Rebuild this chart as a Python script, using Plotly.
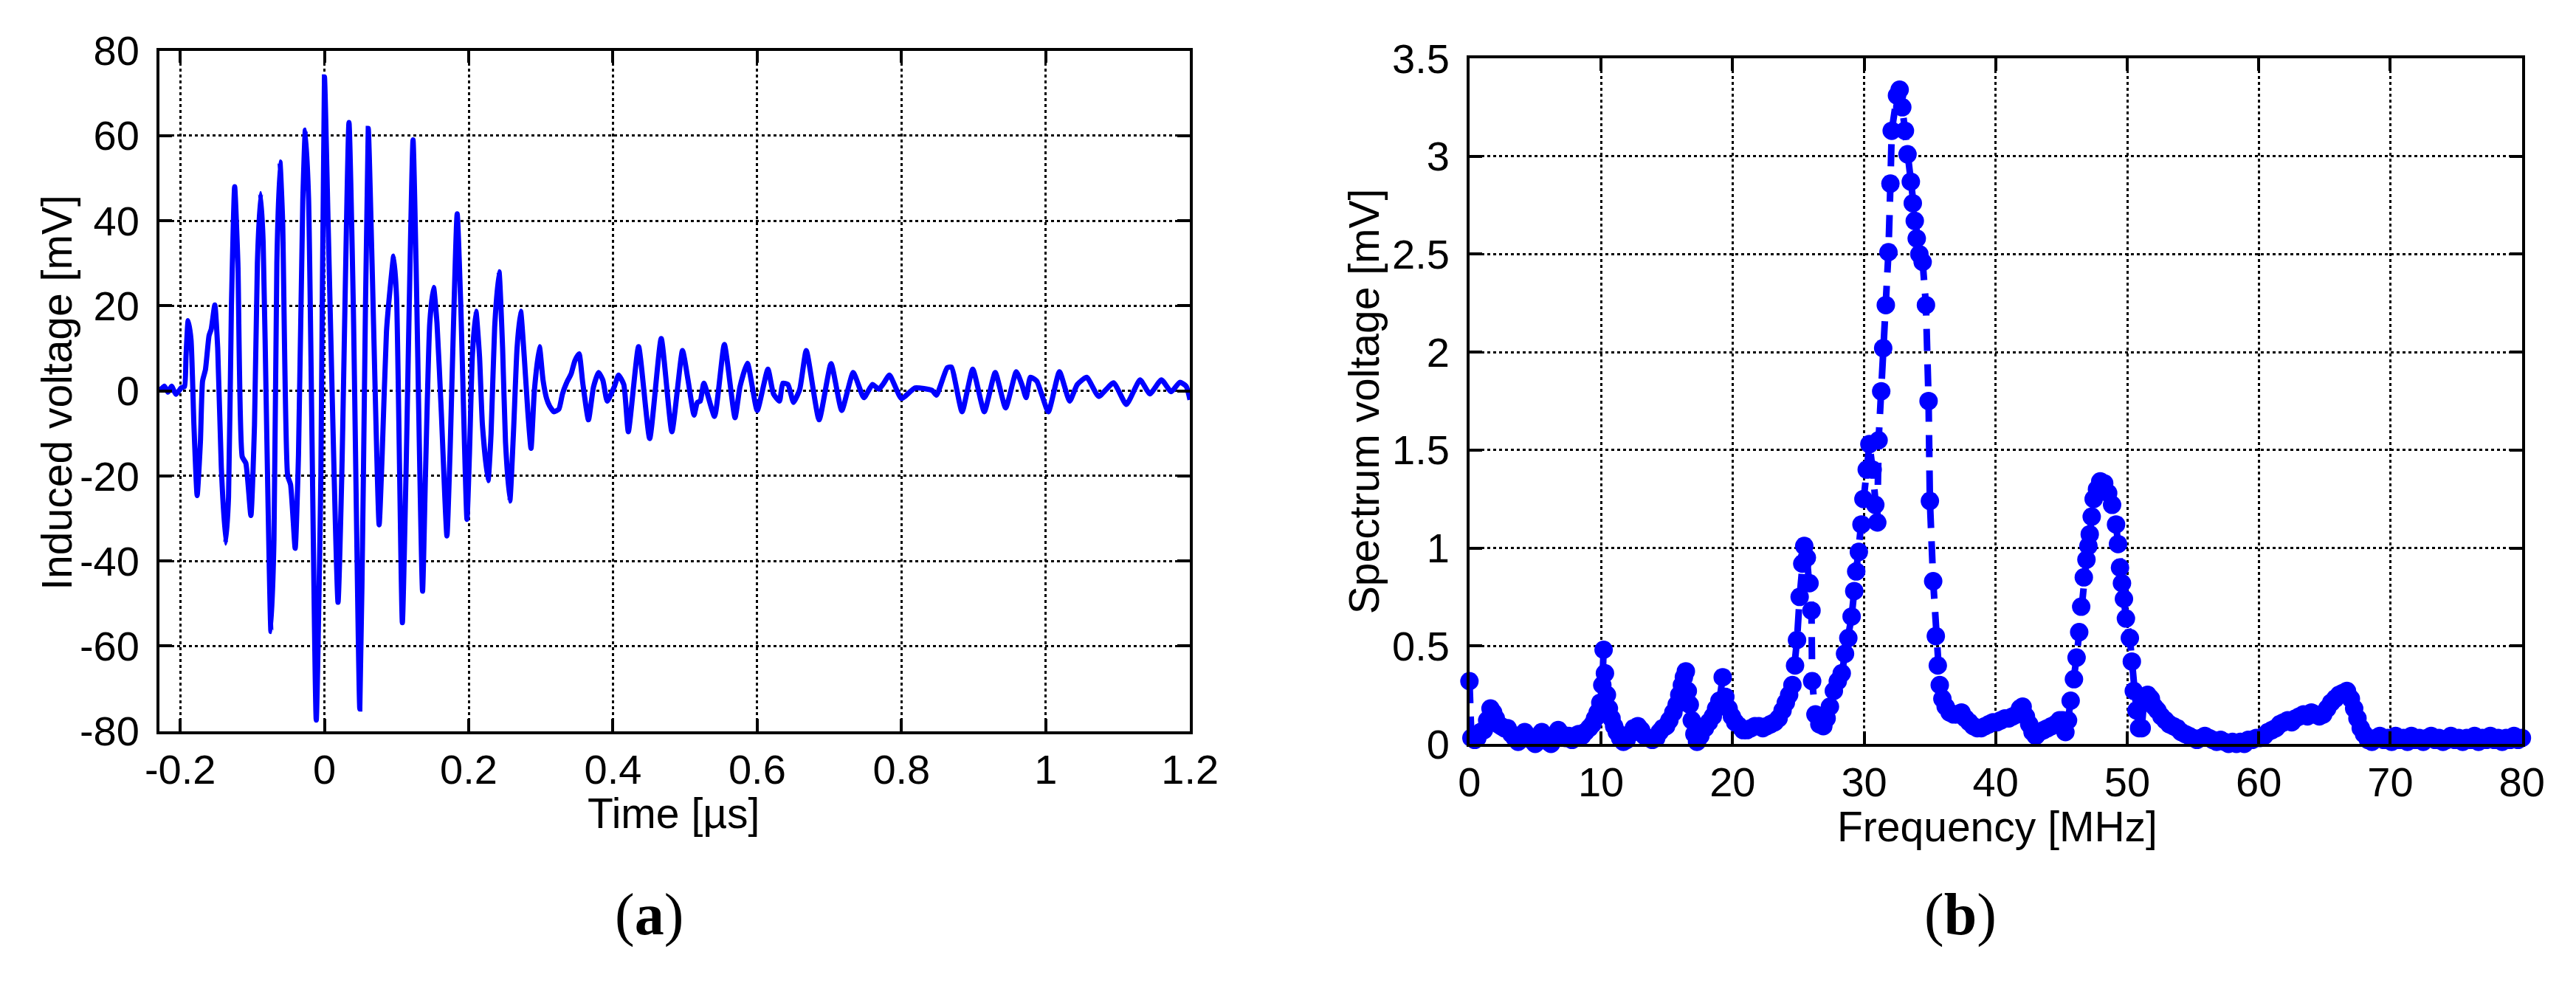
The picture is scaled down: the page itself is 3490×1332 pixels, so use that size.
import plotly.graph_objects as go

# ---------------- (a) induced voltage waveform ----------------
time_us = [-0.229, -0.222, -0.217, -0.212, -0.206, -0.198, -0.194, -0.192, -0.189, -0.185,
           -0.181, -0.1765, -0.172, -0.169, -0.165, -0.160, -0.157, -0.152, -0.148, -0.143,
           -0.137, -0.133, -0.129, -0.1245, -0.120, -0.114, -0.109, -0.102, -0.097, -0.093,
           -0.0886, -0.085, -0.080, -0.0742, -0.070, -0.066, -0.0617, -0.058, -0.051, -0.047,
           -0.0406, -0.036, -0.030, -0.0265, -0.022, -0.0114, -0.005, 0.0, 0.005, 0.0188,
           0.024, 0.034, 0.040, 0.049, 0.054, 0.0607, 0.066, 0.0758, 0.080, 0.086,
           0.091, 0.096, 0.100, 0.108, 0.113, 0.1228, 0.127, 0.136, 0.140, 0.146,
           0.1513, 0.156, 0.162, 0.1698, 0.174, 0.184, 0.189, 0.1976, 0.201, 0.205,
           0.210, 0.215, 0.219, 0.2268, 0.231, 0.236, 0.242, 0.247, 0.251, 0.257,
           0.262, 0.267, 0.272, 0.277, 0.282, 0.2864, 0.291, 0.298, 0.303, 0.308,
           0.312, 0.318, 0.325, 0.330, 0.336, 0.342, 0.347, 0.353, 0.358, 0.366,
           0.373, 0.380, 0.386, 0.392, 0.4017, 0.4077, 0.415, 0.4213, 0.4355, 0.4509,
           0.4669, 0.4817, 0.4964, 0.504, 0.5124, 0.517, 0.521, 0.526, 0.5408, 0.5544,
           0.5692, 0.576, 0.5864, 0.600, 0.6148, 0.6225, 0.6308, 0.6355, 0.6426, 0.6503,
           0.659, 0.668, 0.6858, 0.7024, 0.7172, 0.7331, 0.7479, 0.7598, 0.7686, 0.7746,
           0.7834, 0.800, 0.8189, 0.8426, 0.8485, 0.8633, 0.8692, 0.884, 0.8988, 0.9148,
           0.930, 0.9444, 0.9592, 0.9669, 0.9728, 0.9787, 0.9876, 1.0036, 1.019, 1.0331,
           1.0438, 1.0568, 1.0734, 1.094, 1.1118, 1.1308, 1.1444, 1.1604, 1.174, 1.1858,
           1.1947, 1.200]
voltage_mV = [0.0, 1.1, -0.3, 1.1, -0.8, 0.8, 1.0, 8.0, 16.5, 12.0,
              -8.0, -24.6, -12.0, 2.3, 5.0, 13.0, 14.5, 20.2, 10.0, -18.0,
              -35.8, -25.0, 20.0, 48.0, 30.0, -15.5, -17.0, -29.3, -8.0, 30.0,
              46.4, 35.0, -10.0, -56.6, -35.0, 30.0, 53.8, 40.0, -20.0, -22.0,
              -37.0, -15.0, 45.0, 61.3, 45.0, -77.4, -20.0, 73.8, 40.0, -49.7,
              -20.0, 63.1, 20.0, -74.8, -20.0, 61.7, 30.0, -31.5, -15.0, 14.0,
              24.0, 31.7, 22.0, -54.5, -20.0, 59.0, 30.0, -47.1, -20.0, 16.0,
              24.3, 16.0, -5.0, -34.1, -15.0, 41.6, 20.0, -30.2, -15.0, 8.0,
              18.7, 8.0, -8.0, -21.1, -10.0, 15.0, 28.0, 10.0, -12.0, -25.9,
              -10.0, 10.0, 18.7, 8.0, -5.0, -13.5, 0.0, 10.4, 2.6, -1.8,
              -3.5, -4.9, -4.3, -0.7, 2.0, 4.0, 7.0, 8.7, 2.0, -6.8,
              0.9, 4.3, 2.5, -2.4, 0.9, 3.7, 1.5, -9.6, 10.4, -11.2,
              12.3, -9.6, 9.5, 2.6, -5.7, -2.7, -2.4, 1.8, -6.0, 10.9,
              -6.3, 0.9, 6.5, -4.6, 5.1, -0.7, -2.4, 1.8, 1.5, -2.7,
              0.4, 9.5, -6.8, 6.4, -4.6, 4.3, -1.6, 1.5, 0.4, 1.6,
              3.7, -1.8, 0.7, 0.1, -1.0, 5.4, 5.6, -4.9, 5.1, -4.9,
              4.3, -4.0, 4.5, 1.5, -1.6, 3.2, 2.3, -4.9, 4.5, -2.4,
              1.5, 3.2, -1.3, 1.9, -3.2, 2.6, -0.7, 2.6, -0.2, 2.0,
              1.1, -2.1]

time_ticks = [-0.2, 0, 0.2, 0.4, 0.6, 0.8, 1.0, 1.2]
time_tick_text = ["-0.2", "0", "0.2", "0.4", "0.6", "0.8", "1", "1.2"]
volt_ticks = [-80, -60, -40, -20, 0, 20, 40, 60, 80]
volt_tick_text = ["-80", "-60", "-40", "-20", "0", "20", "40", "60", "80"]

# ---------------- (b) spectrum ----------------
freq_MHz = [0.0, 0.15, 0.4, 0.6, 0.85, 1.1, 1.35, 1.6, 1.8, 2.0,
            2.2, 2.4, 2.65, 2.9, 3.2, 3.45, 3.7, 3.95, 4.2, 4.45,
            4.7, 5.0, 5.25, 5.5, 5.75, 6.0, 6.2, 6.45, 6.75, 7.0,
            7.3, 7.55, 7.8, 8.05, 8.3, 8.55, 8.8, 9.1, 9.35, 9.55,
            9.75, 9.95, 10.1, 10.2, 10.3, 10.45, 10.6, 10.8, 11.0, 11.2,
            11.45, 11.7, 11.95, 12.2, 12.5, 12.8, 13.05, 13.3, 13.6, 13.9,
            14.2, 14.45, 14.7, 14.95, 15.2, 15.5, 15.75, 15.95, 16.15, 16.3,
            16.45, 16.6, 16.75, 16.9, 17.1, 17.3, 17.55, 17.9, 18.2, 18.5,
            18.75, 19.0, 19.25, 19.45, 19.7, 19.95, 20.2, 20.5, 20.8, 21.1,
            21.4, 21.7, 22.0, 22.3, 22.6, 22.9, 23.2, 23.5, 23.8, 24.05,
            24.3, 24.55, 24.75, 24.9, 25.1, 25.3, 25.45, 25.65, 25.85, 26.0,
            26.05, 26.3, 26.6, 26.9, 27.15, 27.4, 27.7, 28.0, 28.3, 28.55,
            28.8, 29.05, 29.25, 29.4, 29.6, 29.8, 29.95, 30.2, 30.4, 30.65,
            30.85, 31.0, 31.1, 31.3, 31.45, 31.65, 31.85, 32.0, 32.1, 32.5,
            32.7, 32.9, 33.1, 33.3, 33.55, 33.7, 33.85, 34.0, 34.2, 34.45,
            34.7, 34.9, 35.0, 35.25, 35.45, 35.6, 35.75, 35.95, 36.2, 36.5,
            36.8, 37.1, 37.4, 37.7, 38.0, 38.3, 38.6, 38.9, 39.2, 39.5,
            39.8, 40.1, 40.4, 40.7, 41.0, 41.3, 41.6, 41.85, 42.05, 42.3,
            42.55, 42.8, 43.05, 43.35, 43.65, 43.95, 44.25, 44.55, 44.85, 45.1,
            45.3, 45.5, 45.7, 45.95, 46.15, 46.35, 46.5, 46.7, 46.9, 47.05,
            47.15, 47.3, 47.45, 47.7, 47.95, 48.25, 48.55, 48.85, 49.15, 49.3,
            49.45, 49.6, 49.75, 49.9, 50.2, 50.35, 50.5, 50.7, 50.9, 51.1,
            51.3, 51.55, 51.8, 52.05, 52.3, 52.6, 52.9, 53.2, 53.5, 53.8,
            54.1, 54.4, 54.7, 55.0, 55.3, 55.6, 55.9, 56.2, 56.5, 56.8,
            57.1, 57.4, 57.7, 58.0, 58.3, 58.6, 58.9, 59.2, 59.5, 59.8,
            60.1, 60.4, 60.7, 61.0, 61.3, 61.6, 61.9, 62.2, 62.5, 62.8,
            63.1, 63.4, 63.7, 64.0, 64.3, 64.6, 64.9, 65.2, 65.5, 65.8,
            66.1, 66.4, 66.7, 67.0, 67.25, 67.5, 67.75, 68.0, 68.3, 68.6,
            68.9, 69.2, 69.5, 69.8, 70.1, 70.4, 70.7, 71.0, 71.3, 71.6,
            71.9, 72.2, 72.5, 72.8, 73.1, 73.4, 73.7, 74.0, 74.3, 74.6,
            74.9, 75.2, 75.5, 75.8, 76.1, 76.4, 76.7, 77.0, 77.3, 77.6,
            77.9, 78.2, 78.5, 78.8, 79.1, 79.4, 79.7, 80.0]
spectrum_mV = [0.32, 0.03, 0.02, 0.03, 0.06, 0.07, 0.12, 0.18, 0.16, 0.13,
               0.10, 0.09, 0.08, 0.08, 0.05, 0.03, 0.01, 0.04, 0.06, 0.03,
               0.02, 0.00, 0.04, 0.06, 0.03, 0.01, 0.00, 0.04, 0.07, 0.05,
               0.03, 0.04, 0.02, 0.04, 0.05, 0.04, 0.06, 0.08, 0.10, 0.13,
               0.16, 0.21, 0.30, 0.48, 0.36, 0.25, 0.18, 0.13, 0.09, 0.06,
               0.03, 0.01, 0.02, 0.05, 0.08, 0.09, 0.07, 0.04, 0.03, 0.02,
               0.03, 0.06, 0.08, 0.09, 0.12, 0.16, 0.20, 0.25, 0.30, 0.34,
               0.37, 0.27, 0.20, 0.12, 0.05, 0.01, 0.04, 0.08, 0.11, 0.14,
               0.18, 0.22, 0.34, 0.24, 0.18, 0.14, 0.11, 0.09, 0.07, 0.07,
               0.08, 0.09, 0.09, 0.08, 0.09, 0.10, 0.11, 0.13, 0.17, 0.21,
               0.25, 0.30, 0.40, 0.53, 0.75, 0.92, 1.01, 0.95, 0.82, 0.68,
               0.32, 0.15, 0.10, 0.09, 0.13, 0.19, 0.27, 0.32, 0.36, 0.46,
               0.54, 0.65, 0.78, 0.88, 0.98, 1.12, 1.25, 1.40, 1.53, 1.40,
               1.22, 1.13, 1.55, 1.80, 2.02, 2.24, 2.51, 2.86, 3.13, 3.31,
               3.34, 3.25, 3.13, 3.01, 2.87, 2.76, 2.67, 2.58, 2.50, 2.46,
               2.24, 1.75, 1.24, 0.83, 0.55, 0.40, 0.30, 0.23, 0.19, 0.16,
               0.15, 0.15, 0.16, 0.13, 0.11, 0.09, 0.08, 0.08, 0.09, 0.10,
               0.11, 0.11, 0.12, 0.13, 0.13, 0.14, 0.15, 0.18, 0.19, 0.14,
               0.10, 0.06, 0.04, 0.06, 0.07, 0.08, 0.09, 0.10, 0.12, 0.12,
               0.06, 0.12, 0.22, 0.33, 0.44, 0.57, 0.70, 0.85, 0.94, 1.01,
               1.07, 1.16, 1.25, 1.30, 1.34, 1.33, 1.28, 1.22, 1.12, 1.02,
               0.90, 0.82, 0.74, 0.64, 0.54, 0.42, 0.27, 0.17, 0.08, 0.08,
               0.24, 0.25, 0.23, 0.19, 0.17, 0.14, 0.12, 0.10, 0.09, 0.08,
               0.06, 0.05, 0.04, 0.03, 0.02, 0.03, 0.04, 0.03, 0.02, 0.01,
               0.02, 0.01, 0.00, 0.01, 0.00, 0.01, 0.00, 0.02, 0.02, 0.03,
               0.03, 0.04, 0.06, 0.07, 0.08, 0.10, 0.11, 0.12, 0.11, 0.13,
               0.14, 0.15, 0.14, 0.16, 0.15, 0.14, 0.15, 0.18, 0.21, 0.23,
               0.25, 0.26, 0.27, 0.23, 0.18, 0.13, 0.08, 0.05, 0.02, 0.01,
               0.03, 0.04, 0.02, 0.03, 0.01, 0.04, 0.02, 0.03, 0.01, 0.04,
               0.02, 0.03, 0.01, 0.03, 0.04, 0.02, 0.03, 0.01, 0.02, 0.04,
               0.02, 0.03, 0.01, 0.03, 0.02, 0.04, 0.01, 0.03, 0.02, 0.04,
               0.02, 0.03, 0.01, 0.03, 0.02, 0.04, 0.02, 0.03]

freq_ticks = [0, 10, 20, 30, 40, 50, 60, 70, 80]
spec_ticks = [0, 0.5, 1, 1.5, 2, 2.5, 3, 3.5]

W, H = 3490, 1332
BLUE = "#0000FF"
FONT = "Liberation Sans"

fig = go.Figure()
fig.add_trace(go.Scatter(
    x=time_us, y=voltage_mV, mode="lines",
    line=dict(color=BLUE, width=7, shape="spline", smoothing=0.5),
    xaxis="x", yaxis="y", showlegend=False, hoverinfo="skip"))
fig.add_trace(go.Scatter(
    x=freq_MHz, y=spectrum_mV, mode="lines+markers",
    line=dict(color=BLUE, width=9, dash="30px,18px"),
    marker=dict(size=25, color=BLUE, line=dict(width=0)),
    cliponaxis=False,
    xaxis="x2", yaxis="y2", showlegend=False, hoverinfo="skip"))

def axis_style(**kw):
    d = dict(showline=True, linecolor="black", linewidth=3.5, mirror="ticks",
             ticks="inside", ticklen=17, tickwidth=3.5, tickcolor="black",
             showgrid=True, gridcolor="black", gridwidth=2.5, griddash="4px,4px",
             zeroline=False, tickfont=dict(family=FONT, size=56, color="black"),
             ticklabelstandoff=12)
    d.update(kw)
    return d

fig.update_layout(
    width=W, height=H,
    margin=dict(l=0, r=0, t=0, b=0),
    paper_bgcolor="white", plot_bgcolor="white",
    xaxis=axis_style(domain=[192 / W, 1612 / W], range=[-0.229, 1.2],
                     tickvals=time_ticks, ticktext=time_tick_text, anchor="y",
                     ticklabelstandoff=0),
    yaxis=axis_style(domain=[1 - 999 / H, 1 - 31 / H], range=[-80, 80],
                     tickvals=volt_ticks, ticktext=volt_tick_text, anchor="x"),
    xaxis2=axis_style(domain=[1997 / W, 3447 / W], range=[0, 80],
                      tickvals=freq_ticks, anchor="y2", ticklabelstandoff=0),
    yaxis2=axis_style(domain=[1 - 1017 / H, 1 - 42 / H], range=[0, 3.5],
                      tickvals=spec_ticks, ticktext=[str(v) for v in spec_ticks], anchor="x2"),
)

ann_font = dict(family=FONT, size=57, color="black")
annotations = [
    dict(text="Time [µs]", x=900 / W, y=1 - 1116 / H, font=ann_font),
    dict(text="Frequency [MHz]", x=2724 / W, y=1 - 1135 / H, font=ann_font),
    dict(text="Induced voltage [mV]", x=50 / W, y=1 - 517 / H, font=ann_font, textangle=-90),
    dict(text="Spectrum voltage [mV]", x=1852 / W, y=1 - 530 / H, font=ann_font, textangle=-90),
    dict(text="(<b>a</b>)", x=867 / W, y=1 - 1260 / H,
         font=dict(family="Liberation Serif", size=80, color="black")),
    dict(text="(<b>b</b>)", x=2673 / W, y=1 - 1260 / H,
         font=dict(family="Liberation Serif", size=80, color="black")),
]
for a in annotations:
    a.update(xref="paper", yref="paper", showarrow=False, xanchor="center", yanchor="middle")
fig.update_layout(annotations=annotations)

fig.write_html("out.html")
